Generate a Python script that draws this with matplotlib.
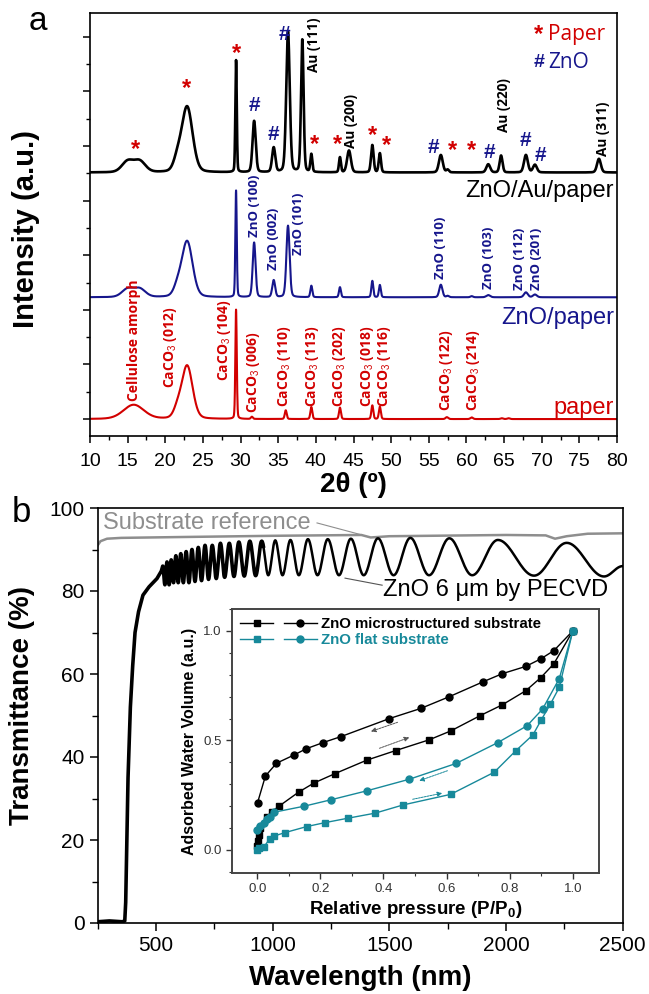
import numpy as np
import matplotlib.pyplot as plt
from matplotlib.ticker import MultipleLocator
from matplotlib.lines import Line2D
from matplotlib.patches import Rectangle
from matplotlib.legend_handler import HandlerTuple

plt.rcParams['font.family'] = ['Liberation Sans', 'DejaVu Sans']
plt.rcParams['mathtext.fontset'] = 'custom'
plt.rcParams['mathtext.rm'] = 'Liberation Sans'
plt.rcParams['mathtext.bf'] = 'Liberation Sans:bold'

RED = '#d20000'
NAVY = '#16168c'
TEAL = '#17899a'
GRAY = '#8e8e8e'

# ---------------- XRD peaks: position (deg), height, fwhm
paper_pos = [15.8, 21.6, 22.9, 29.4, 31.5, 36.0, 39.4, 43.2, 47.5, 48.5, 57.4, 60.7, 64.7, 65.6]
paper_h = [0.52, 0.30, 1.95, 4.0, 0.08, 0.32, 0.44, 0.42, 0.50, 0.45, 0.07, 0.06, 0.03, 0.03]
paper_w = [3.2, 1.2, 1.7, 0.22, 0.3, 0.3, 0.3, 0.3, 0.3, 0.3, 0.4, 0.4, 0.4, 0.4]

zno_pos = [15.0, 16.6, 21.6, 22.9, 29.4, 31.8, 34.4, 36.3, 39.4, 43.2, 47.5, 48.5,
           56.6, 57.5, 60.7, 62.9, 67.9, 69.1]
zno_h = [0.30, 0.30, 0.30, 2.05, 3.9, 2.0, 0.62, 2.62, 0.42, 0.37, 0.60, 0.45,
         0.46, 0.05, 0.04, 0.08, 0.18, 0.10]
zno_w = [1.8, 1.8, 1.2, 1.7, 0.22, 0.45, 0.45, 0.5, 0.3, 0.3, 0.3, 0.3,
         0.5, 0.4, 0.4, 0.6, 0.6, 0.6]

au_pos = [15.0, 16.6, 21.6, 22.9, 29.4, 31.8, 34.4, 36.3, 38.2, 39.4, 43.2, 44.4,
          47.5, 48.5, 56.6, 57.5, 62.9, 64.6, 67.9, 69.1, 77.6]
au_h = [0.40, 0.40, 0.40, 2.4, 4.1, 1.88, 0.9, 5.15, 4.85, 0.65, 0.55, 0.8,
        1.0, 0.7, 0.64, 0.1, 0.3, 0.62, 0.64, 0.28, 0.5]
au_w = [1.8, 1.8, 1.2, 1.7, 0.22, 0.5, 0.5, 0.55, 0.4, 0.3, 0.3, 0.6,
        0.4, 0.35, 0.6, 0.4, 0.6, 0.45, 0.6, 0.6, 0.6]

offset_paper, offset_zno, offset_au = 0.0, 4.46, 9.03

paper_labels = [('Cellulose amorph', 15.9, 0.65), ('CaCO$_3$ (012)', 20.7, 1.13),
                ('CaCO$_3$ (104)', 27.8, 1.38), ('CaCO$_3$ (006)', 31.7, 0.22),
                ('CaCO$_3$ (110)', 35.9, 0.46), ('CaCO$_3$ (113)', 39.6, 0.46),
                ('CaCO$_3$ (202)', 43.2, 0.46), ('CaCO$_3$ (018)', 46.85, 0.46),
                ('CaCO$_3$ (116)', 49.15, 0.46), ('CaCO$_3$ (122)', 57.3, 0.28),
                ('CaCO$_3$ (214)', 61.0, 0.28)]
zno_labels = [('ZnO (100)', 31.9, 6.66), ('ZnO (002)', 34.4, 5.46), ('ZnO (101)', 37.7, 6.0),
              ('ZnO (110)', 56.6, 5.13), ('ZnO (103)', 62.9, 4.77), ('ZnO (112)', 67.0, 4.72),
              ('ZnO (201)', 69.3, 4.72)]
au_labels = [('Au (111)', 39.7, 12.7), ('Au (200)', 44.7, 9.94), ('Au (220)', 65.0, 10.5),
             ('Au (311)', 78.1, 9.64)]
star_marks = [(16.0, 9.88), (22.8, 12.1), (29.5, 13.4), (39.8, 10.06), (42.9, 10.06),
              (47.5, 10.37), (49.4, 10.0), (58.1, 9.85), (60.7, 9.85)]
hash_marks = [(31.9, 11.47), (34.4, 10.43), (35.8, 14.1), (55.6, 9.94), (63.0, 9.76),
              (67.8, 10.19), (69.8, 9.64)]

# ---------------- Transmittance (panel b)
edge_wl = [250, 300, 355, 366, 370, 375, 380, 390, 400, 410, 425, 444, 470, 504, 520]
edge_T = [0.3, 0.5, 0.3, 0.5, 5, 20, 35, 52, 62, 70, 75, 79, 81, 83, 84.5]
max_wl = [529, 547, 565, 585, 606, 629, 654, 681, 710, 741, 776, 814, 855, 902, 953,
          1011, 1076, 1151, 1236, 1335, 1451, 1590, 1757, 1965, 2260]
max_T = [86.0, 87.0, 87.5, 88.5, 89.0, 89.5, 90.0, 90.5, 91.0, 91.0, 91.5, 91.5, 91.8,
         92.0, 92.0, 92.2, 92.3, 92.5, 92.5, 92.6, 92.7, 92.8, 92.7, 92.3, 91.6]
min_wl = [538, 556, 575, 595, 617, 641, 667, 695, 725, 758, 794, 834, 878, 927, 981,
          1042, 1112, 1192, 1284, 1390, 1518, 1670, 1855, 2120, 2420]
min_T = [81.5, 81.5, 82.0, 82.0, 82.0, 82.0, 82.3, 82.5, 82.8, 83.0, 83.3, 83.5, 83.6,
         83.7, 83.8, 83.8, 83.8, 83.8, 83.8, 83.8, 83.8, 83.8, 83.8, 83.7, 83.5]
end_wl, end_T = 2500, 86.0

ref_wl = [250, 262, 290, 350, 600, 1000, 1380, 1420, 1500, 2000, 2170, 2210, 2260, 2350, 2500]
ref_T = [91.0, 92.0, 92.6, 92.8, 93.0, 93.3, 93.5, 92.9, 93.2, 93.5, 93.4, 92.6, 93.2, 93.8, 93.9]

# ---------------- Water adsorption isotherms (inset)
micro_ads_x = [0.0, 0.002, 0.005, 0.008, 0.031, 0.046, 0.07, 0.131, 0.18, 0.247, 0.347,
               0.439, 0.545, 0.614, 0.706, 0.777, 0.851, 0.898, 0.94, 1.0]
micro_ads_y = [0.02, 0.04, 0.07, 0.10, 0.152, 0.175, 0.201, 0.264, 0.306, 0.349, 0.41,
               0.454, 0.503, 0.544, 0.613, 0.663, 0.727, 0.786, 0.85, 1.0]
micro_des_x = [0.001, 0.026, 0.061, 0.117, 0.155, 0.208, 0.266, 0.419, 0.518, 0.609,
               0.716, 0.777, 0.851, 0.898, 0.94, 1.0]
micro_des_y = [0.216, 0.338, 0.396, 0.434, 0.462, 0.49, 0.518, 0.60, 0.646, 0.70,
               0.768, 0.805, 0.838, 0.872, 0.91, 1.0]
flat_ads_x = [0.0, 0.005, 0.02, 0.039, 0.054, 0.087, 0.157, 0.215, 0.287, 0.373, 0.463,
              0.613, 0.751, 0.82, 0.874, 0.90, 0.929, 0.957, 1.0]
flat_ads_y = [0.0, 0.01, 0.012, 0.05, 0.064, 0.079, 0.107, 0.125, 0.145, 0.168, 0.206,
              0.254, 0.355, 0.454, 0.526, 0.594, 0.666, 0.742, 1.0]
flat_des_x = [0.0, 0.01, 0.02, 0.03, 0.041, 0.052, 0.149, 0.233, 0.347, 0.482, 0.63,
              0.762, 0.855, 0.904, 0.957, 1.0]
flat_des_y = [0.091, 0.11, 0.125, 0.14, 0.152, 0.172, 0.2, 0.229, 0.27, 0.323, 0.395,
              0.49, 0.567, 0.643, 0.782, 1.0]


def pattern(x, pos, h, w):
    y = np.zeros_like(x)
    for p, a, f in zip(pos, h, w):
        g = np.exp(-4 * np.log(2) * ((x - p) / f) ** 2)
        lz = 1 / (1 + (2 * (x - p) / f) ** 2)
        y += a * (0.8 * g + 0.2 * lz)
    return y


def fringe_curve():
    # extrema joined by half-cosine segments
    ext = []
    for a, b, c, d in zip(max_wl, max_T, min_wl, min_T):
        ext += [(a, b), (c, d)]
    ext.append((end_wl, end_T))
    xs, ys = [edge_wl[:-1]], [edge_T[:-1]]
    pts = [(edge_wl[-1], edge_T[-1])] + ext
    for (x0, y0), (x1, y1) in zip(pts[:-1], pts[1:]):
        t = np.linspace(0, 1, 25)[:-1]
        xs.append(x0 + (x1 - x0) * t)
        ys.append(y0 + (y1 - y0) * (1 - np.cos(np.pi * t)) / 2)
    xs.append([end_wl]); ys.append([end_T])
    return np.concatenate(xs), np.concatenate(ys)


fig = plt.figure(figsize=(6.49, 9.94), dpi=100)

# ================= panel a
ax = fig.add_axes([90 / 649, 1 - 436 / 994, 527 / 649, 423 / 994])
tt = np.linspace(10, 80, 3501)
ax.plot(tt, offset_paper + pattern(tt, paper_pos, paper_h, paper_w), color=RED, lw=1.5)
ax.plot(tt, offset_zno + pattern(tt, zno_pos, zno_h, zno_w), color=NAVY, lw=1.5)
ax.plot(tt, offset_au + pattern(tt, au_pos, au_h, au_w), color='black', lw=1.9)
ax.set_xlim(10, 80)
ax.set_ylim(-0.62, 14.87)
ax.xaxis.set_major_locator(MultipleLocator(5))
ax.xaxis.set_minor_locator(MultipleLocator(2.5))
ax.yaxis.set_major_locator(MultipleLocator(2))
ax.yaxis.set_minor_locator(MultipleLocator(1))
ax.tick_params(axis='both', which='major', length=5, width=1.1, labelsize=14, pad=7)
ax.tick_params(axis='both', which='minor', length=3, width=1.0)
ax.tick_params(axis='y', which='both', labelleft=False)
for s in ax.spines.values():
    s.set_linewidth(1.2)
ax.set_xlabel('2θ (º)', fontsize=20, fontweight='bold')
ax.xaxis.set_label_coords(0.5, -0.086)
ax.set_ylabel('Intensity (a.u.)', fontsize=21, fontweight='bold')
ax.yaxis.set_label_coords(-0.095, 0.49)

lab_font = dict(family=['Open Sans', 'DejaVu Sans'], fontweight='bold', rotation=90,
                ha='center', va='bottom')
clip = Rectangle((10, -1), 70, 5.3, transform=ax.transData)
for txt, x, y in paper_labels:
    t = ax.text(x, y, txt, color=RED, fontsize=10, **lab_font)
    t.set_clip_path(clip)
for txt, x, y in zno_labels:
    ax.text(x, y, txt, color=NAVY, fontsize=9.5, **lab_font)
for txt, x, y in au_labels:
    ax.text(x, y, txt, color='black', fontsize=9.8, **lab_font)
for x, y in star_marks:
    ax.text(x, y, '*', color=RED, fontsize=17, fontweight='bold', ha='center', va='center')
for x, y in hash_marks:
    ax.text(x, y, '#', color=NAVY, fontsize=15, fontweight='bold', ha='center', va='center')

ax.text(69.6, 14.1, '*', color=RED, fontsize=17, fontweight='bold', ha='center', va='center')
ax.text(70.9, 14.1, 'Paper', color=RED, fontsize=15, family=['Open Sans', 'DejaVu Sans'],
        va='center')
ax.text(69.6, 13.06, '#', color=NAVY, fontsize=14, fontweight='bold', ha='center', va='center')
ax.text(70.9, 13.06, 'ZnO', color=NAVY, fontsize=15, family=['Open Sans', 'DejaVu Sans'],
        va='center')
ax.text(79.6, 8.34, 'ZnO/Au/paper', color='black', fontsize=17, ha='right', va='center')
ax.text(79.6, 3.7, 'ZnO/paper', color=NAVY, fontsize=17, ha='right', va='center')
ax.text(79.6, 0.42, 'paper', color=RED, fontsize=17, ha='right', va='center')
fig.text(38 / 649, 1 - 22 / 994, 'a', fontsize=24, ha='center', va='center')

# ================= panel b
bx = fig.add_axes([97.7 / 649, 1 - 923 / 994, 525 / 649, 415 / 994])
wl, tr = fringe_curve()
bx.plot(ref_wl, ref_T, color=GRAY, lw=1.8)
noisy = wl <= 960
bx.plot(wl[noisy], tr[noisy], color='black', lw=2.6, solid_joinstyle='round')
bx.plot(wl[wl >= 950], tr[wl >= 950], color='black', lw=1.8)
bx.set_xlim(250, 2500)
bx.set_ylim(0, 100)
bx.xaxis.set_major_locator(MultipleLocator(500))
bx.xaxis.set_minor_locator(MultipleLocator(250))
bx.yaxis.set_major_locator(MultipleLocator(20))
bx.yaxis.set_minor_locator(MultipleLocator(10))
bx.tick_params(axis='both', which='major', length=6, width=1.1, labelsize=15)
bx.tick_params(axis='both', which='minor', length=4, width=1.0)
for s in bx.spines.values():
    s.set_linewidth(1.2)
bx.set_xlabel('Wavelength (nm)', fontsize=20, fontweight='bold')
bx.set_ylabel('Transmittance (%)', fontsize=20, fontweight='bold')
bx.yaxis.set_label_coords(-0.119, 0.523)
bx.xaxis.set_label_coords(0.5, -0.102)
bx.text(273, 96.4, 'Substrate reference', color=GRAY, fontsize=17, va='center')
bx.plot([1190, 1383], [96.4, 93.5], color=GRAY, lw=0.8)
bx.text(1473, 80.2, 'ZnO 6 μm by PECVD', color='black', fontsize=17, va='center')
bx.plot([1310, 1469], [83.1, 81.4], color='#555555', lw=0.8)
fig.text(21 / 649, 1 - 512 / 994, 'b', fontsize=25, ha='center', va='center')

# ================= inset
ix = fig.add_axes([232 / 649, 1 - 873 / 994, 367 / 649, 264 / 994])
ix.set_facecolor('white')
mk = dict(ms=5, lw=1.0)
ix.plot(micro_ads_x, micro_ads_y, '-s', color='black', **mk)
ix.plot(micro_des_x, micro_des_y, '-o', color='black', **mk)
ix.plot(flat_ads_x, flat_ads_y, '-s', color=TEAL, **mk)
ix.plot(flat_des_x, flat_des_y, '-o', color=TEAL, **mk)
ix.set_xlim(-0.08, 1.083)
ix.set_ylim(-0.105, 1.1)
ix.xaxis.set_major_locator(MultipleLocator(0.2))
ix.xaxis.set_minor_locator(MultipleLocator(0.1))
ix.yaxis.set_major_locator(MultipleLocator(0.5))
ix.yaxis.set_minor_locator(MultipleLocator(0.1))
ix.tick_params(axis='both', which='major', length=4, width=1.0, labelsize=9.5,
               colors='#333333')
ix.tick_params(axis='both', which='minor', length=2.5, width=0.8, colors='#333333')
for s in ix.spines.values():
    s.set_linewidth(1.4)
    s.set_color('#444444')
ix.set_xlabel('Relative pressure (P/P$_\\mathbf{0}$)', fontsize=13.5, fontweight='bold')
ix.xaxis.set_label_coords(0.5, -0.098)
ix.set_ylabel('Adsorbed Water Volume (a.u.)', fontsize=11.5, fontweight='bold')
ix.yaxis.set_label_coords(-0.095, 0.5)

arrow_kw = dict(arrowstyle='-|>', lw=0.7, mutation_scale=7, linestyle=(0, (2, 1)))
ix.annotate('', xy=(0.352, 0.537), xytext=(0.453, 0.587),
            arrowprops=dict(color='#555555', **arrow_kw))
ix.annotate('', xy=(0.49, 0.518), xytext=(0.379, 0.46),
            arrowprops=dict(color='#555555', **arrow_kw))
ix.annotate('', xy=(0.505, 0.312), xytext=(0.611, 0.366),
            arrowprops=dict(color=TEAL, **arrow_kw))
ix.annotate('', xy=(0.595, 0.262), xytext=(0.484, 0.229),
            arrowprops=dict(color=TEAL, **arrow_kw))

h1 = (Line2D([], [], color='black', marker='s', ms=5, lw=1.0),
      Line2D([], [], color='black', marker='o', ms=5, lw=1.0))
h2 = (Line2D([], [], color=TEAL, marker='s', ms=5, lw=1.0),
      Line2D([], [], color=TEAL, marker='o', ms=5, lw=1.0))
leg = ix.legend([h1, h2], ['ZnO microstructured substrate', 'ZnO flat substrate'],
                handler_map={tuple: HandlerTuple(ndivide=None, pad=0.67)},
                loc='upper left', frameon=False, handlelength=5.1, handletextpad=0.27,
                borderpad=0.2, borderaxespad=0.35, labelspacing=0.1,
                prop=dict(size=10.8, weight='bold'))
leg.get_texts()[1].set_color(TEAL)

fig.savefig('out.png', dpi=100)
